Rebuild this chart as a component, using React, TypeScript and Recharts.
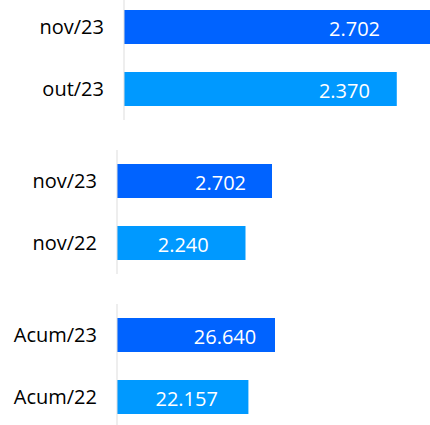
import React from 'react';
import { BarChart, Bar, XAxis, YAxis, Cell, LabelList } from 'recharts';

const monthCategories = ['nov/23', 'out/23'];
const monthValues = [2702, 2370];

const yearCategories = ['nov/23', 'nov/22'];
const yearValues = [2702, 2240];

const accumCategories = ['Acum/23', 'Acum/22'];
const accumValues = [26640, 22157];

const barColors = ['#0063FF', '#0099FF'];
const fontFamily = '"Open Sans", "DejaVu Sans", sans-serif';

const fmt = (v: number) => String(v).replace(/\B(?=(\d{3})+(?!\d))/g, '.');

type PanelProps = {
  top: number;
  width: number;
  axisWidth: number;
  categories: string[];
  values: number[];
  labelDx: number[];
};

function Panel({ top, width, axisWidth, categories, values, labelDx }: PanelProps) {
  const data = categories.map((name, i) => ({ name, value: values[i] }));

  const renderLabel = (props: any) => {
    const { x, y, width: w, height: h, value, index } = props;
    const i = index ?? values.indexOf(value);
    return (
      <text
        x={Number(x) + Number(w) / 2 + (labelDx[i] || 0)}
        y={Number(y) + Number(h) / 2 + 1}
        fill="#ffffff"
        fontSize={20}
        fontFamily={fontFamily}
        textAnchor="middle"
        dominantBaseline="central"
      >
        {fmt(value)}
      </text>
    );
  };

  return (
    <div style={{ position: 'absolute', left: 0, top }}>
      <BarChart
        width={width}
        height={124}
        data={data}
        layout="vertical"
        margin={{ top: 0, right: 0, bottom: 0, left: 0 }}
      >
        <XAxis type="number" hide domain={[0, 'dataMax']} />
        <YAxis
          type="category"
          dataKey="name"
          width={axisWidth}
          tickLine={false}
          axisLine={{ stroke: '#dddddd', strokeWidth: 1 }}
          tickMargin={14}
          tick={{ fill: '#000000', fontSize: 20, fontFamily }}
        />
        <Bar dataKey="value" barSize={34} isAnimationActive={false}>
          {data.map((d, i) => (
            <Cell key={d.name} fill={barColors[i]} />
          ))}
          <LabelList dataKey="value" content={renderLabel} />
        </Bar>
      </BarChart>
    </div>
  );
}

export default function App() {
  return (
    <div
      style={{
        position: 'absolute',
        left: 0,
        top: 0,
        width: 430,
        height: 425,
        overflow: 'hidden',
        background: '#ffffff',
      }}
    >
      <Panel top={-4} width={435} axisWidth={124} categories={monthCategories} values={monthValues} labelDx={[75, 84]} />
      <Panel top={150} width={272} axisWidth={117} categories={yearCategories} values={yearValues} labelDx={[26, 2]} />
      <Panel top={304} width={275} axisWidth={117} categories={accumCategories} values={accumValues} labelDx={[29, 4]} />
    </div>
  );
}
